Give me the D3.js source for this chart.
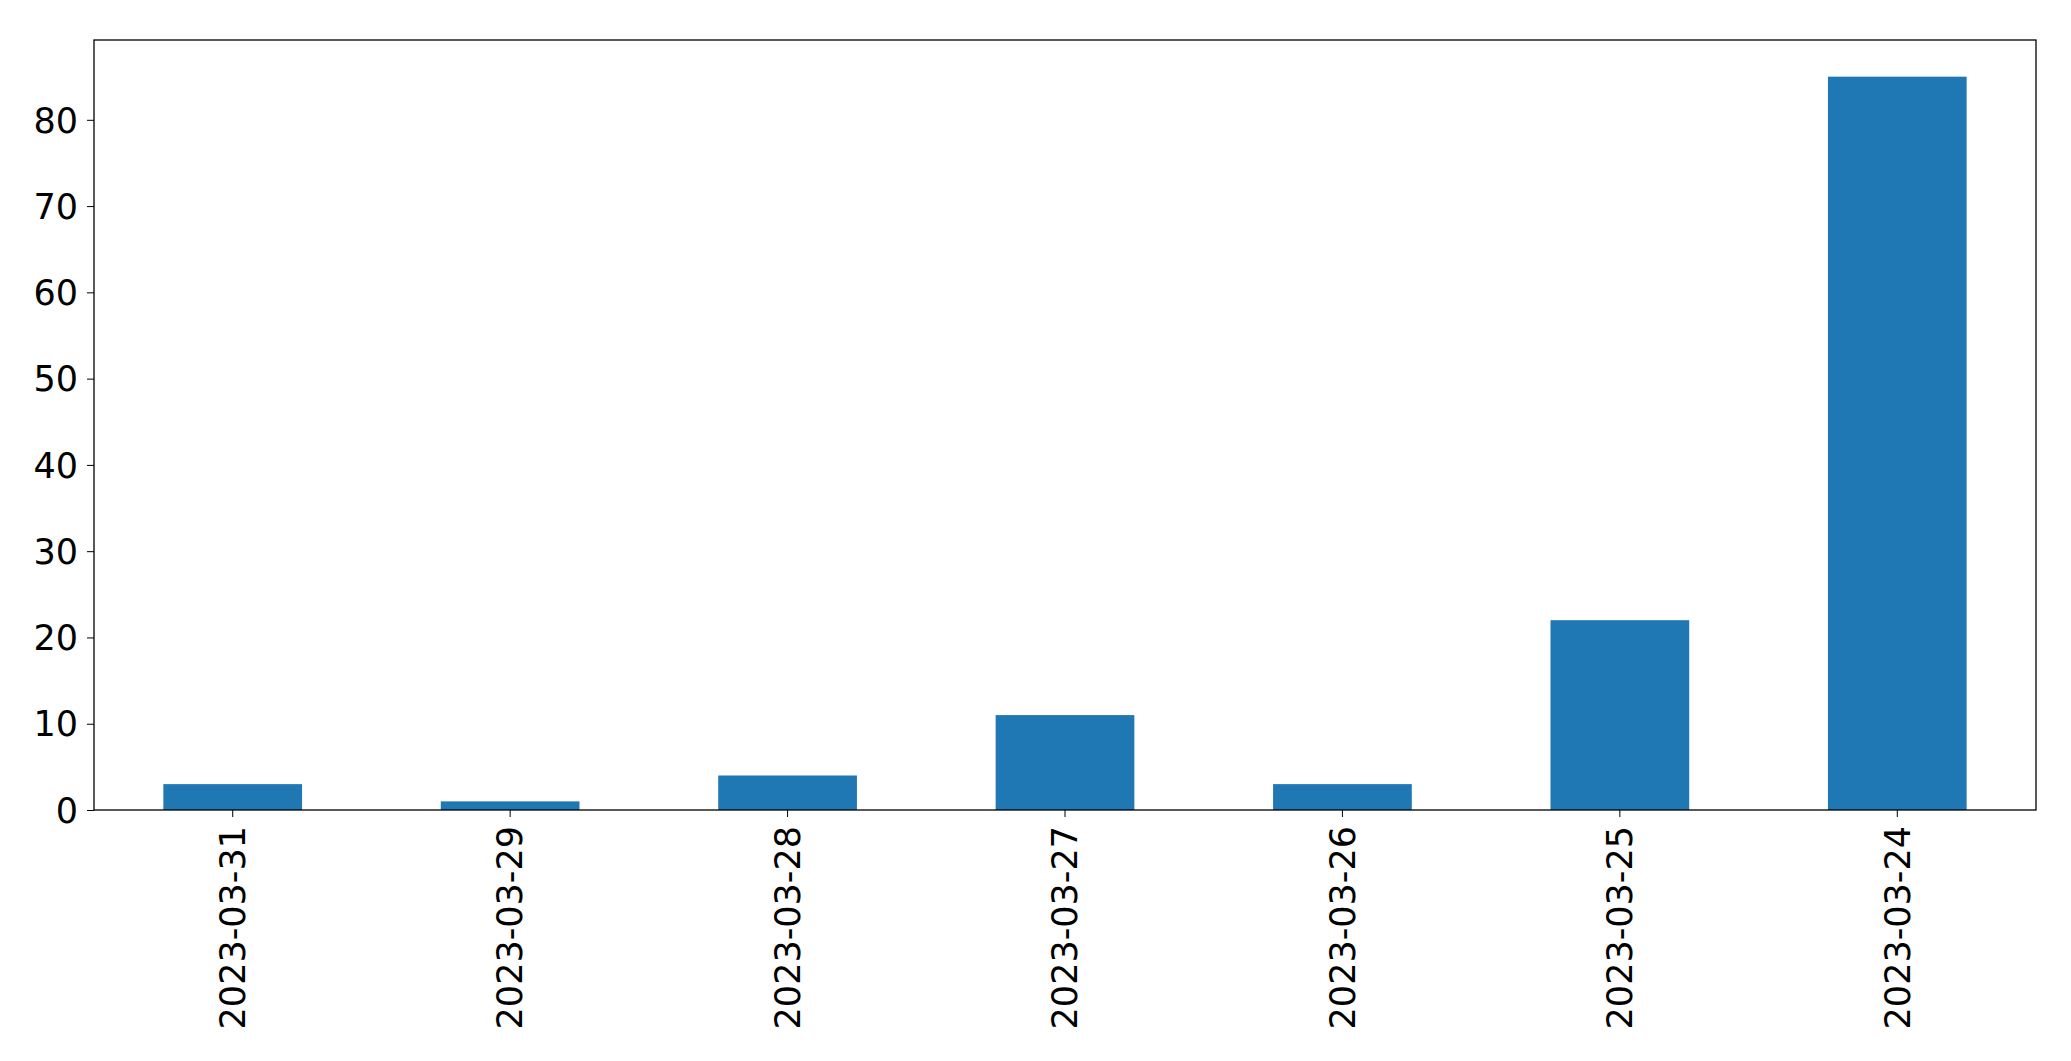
<!DOCTYPE html>
<html><head><meta charset="utf-8">
<script src="https://cdn.jsdelivr.net/npm/d3@7"></script>
<style>body{margin:0;background:#fff}text{font-family:"DejaVu Sans",sans-serif}</style>
</head><body>
<script>
const dates = ['2023-03-31', '2023-03-29', '2023-03-28', '2023-03-27', '2023-03-26', '2023-03-25', '2023-03-24'];
const counts = [3, 1, 4, 11, 3, 22, 85];
const yTicks = [0, 10, 20, 30, 40, 50, 60, 70, 80];

const W = 2071, H = 1061;
const m = { left: 94, top: 40, right: 2036, bottom: 810 };

const svg = d3.select('body').append('svg').attr('width', W).attr('height', H);

const x = d3.scaleBand().domain(dates).range([m.left, m.right]).paddingInner(0.5).paddingOuter(0.25);
const y = d3.scaleLinear().domain([0, 89.25]).range([m.bottom, m.top]);

svg.append('g')
  .selectAll('rect')
  .data(dates)
  .join('rect')
  .attr('x', d => x(d))
  .attr('width', x.bandwidth())
  .attr('y', (d, i) => y(counts[i]))
  .attr('height', (d, i) => y(0) - y(counts[i]))
  .attr('fill', '#1f77b4');

const yAxis = svg.append('g')
  .attr('transform', `translate(${m.left},0)`)
  .call(d3.axisLeft(y).tickValues(yTicks).tickSize(7).tickPadding(9));
yAxis.select('.domain').remove();
yAxis.selectAll('text').attr('font-size', 35).attr('fill', '#000').attr('dy', '0.35em');

const xAxis = svg.append('g')
  .attr('transform', `translate(0,${m.bottom})`)
  .call(d3.axisBottom(x).tickSize(7).tickPadding(9));
xAxis.select('.domain').remove();
xAxis.selectAll('text')
  .attr('font-size', 35)
  .attr('fill', '#000')
  .attr('transform', 'rotate(-90)')
  .attr('text-anchor', 'end')
  .attr('x', -16)
  .attr('y', 0)
  .attr('dy', '0.35em');

svg.append('rect')
  .attr('x', m.left).attr('y', m.top)
  .attr('width', m.right - m.left).attr('height', m.bottom - m.top)
  .attr('fill', 'none').attr('stroke', '#000').attr('stroke-width', 1.3);
</script>
</body></html>
